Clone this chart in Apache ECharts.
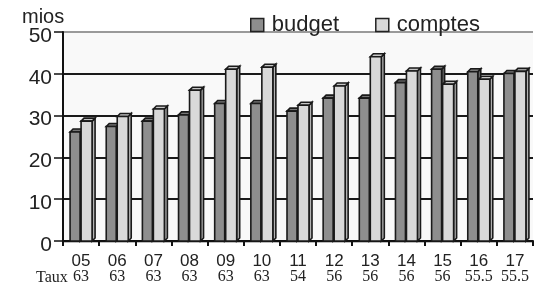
<!DOCTYPE html>
<html>
<head>
<meta charset="utf-8">
<script src="https://cdn.jsdelivr.net/npm/echarts@6/dist/echarts.min.js"></script>
<style>
html,body{margin:0;padding:0;background:#fff;}
#c{width:535px;height:285px;}
</style>
</head>
<body>
<div id="c"></div>
<script>
var years = ['05','06','07','08','09','10','11','12','13','14','15','16','17'];
var taux = ['63','63','63','63','63','63','54','56','56','56','56','55.5','55.5'];
var budget = [26.8, 28.1, 29.4, 30.9, 33.6, 33.6, 31.8, 34.9, 34.9, 38.6, 41.8, 41.2, 40.8];
var comptes = [29.4, 30.5, 32.3, 36.8, 41.8, 42.3, 33.2, 37.8, 44.8, 41.4, 38.2, 39.4, 41.3];
var yTicks = [0, 10, 20, 30, 40, 50];

var chart = echarts.init(document.getElementById('c'), null, {renderer: 'canvas'});

function makeRender(offset, w, front, top, side) {
  return function (params, api) {
    var idx = api.value(0);
    var v = api.value(1);
    var c = api.coord([idx, v]);
    var base = api.coord([idx, 0]);
    var d = 3;
    var x0 = c[0] + offset;
    var yTop = c[1] + d;
    var yBot = base[1];
    var st = {stroke: '#1a1a1a', lineWidth: 1.6};
    return {
      type: 'group',
      children: [
        {type: 'polygon', shape: {points: [[x0 + w, yTop], [x0 + w + d, yTop - d], [x0 + w + d, yBot - d], [x0 + w, yBot]]},
         style: Object.assign({fill: side}, st)},
        {type: 'polygon', shape: {points: [[x0, yTop], [x0 + d, yTop - d], [x0 + w + d, yTop - d], [x0 + w, yTop]]},
         style: Object.assign({fill: top}, st)},
        {type: 'rect', shape: {x: x0, y: yTop, width: w, height: yBot - yTop},
         style: Object.assign({fill: front}, st)}
      ]
    };
  };
}

var option = {
  animation: false,
  backgroundColor: '#ffffff',
  grid: {left: 63, right: 2, top: 32, bottom: 42, show: true, backgroundColor: '#f9f9f9', borderWidth: 0},
  legend: {
    top: 9, left: 245, itemWidth: 13, itemHeight: 13, itemGap: 36,
    icon: 'rect',
    textStyle: {fontFamily: 'Liberation Sans, Arial', fontSize: 22, color: '#222', padding: [0, 0, 0, 3]},
    data: [
      {name: 'budget', itemStyle: {color: '#8e8e8e', borderColor: '#222', borderWidth: 1.5}},
      {name: 'comptes', itemStyle: {color: '#d9d9d9', borderColor: '#222', borderWidth: 1.5}}
    ]
  },
  graphic: [
    {type: 'text', left: 22, top: 7, style: {text: 'mios', font: '20px "Liberation Sans", Arial', fill: '#222'}},
    {type: 'text', left: 36, top: 270, style: {text: 'Taux', font: '16px "Liberation Serif", "Times New Roman"', fill: '#222'}},
    {type: 'rect', shape: {x: 64, y: 240, width: 469, height: 3}, style: {fill: '#bdbdbd'}, z: 0}
  ],
  xAxis: {
    type: 'category',
    data: years,
    boundaryGap: true,
    axisLine: {show: true, lineStyle: {color: '#111', width: 2}},
    axisTick: {show: true, length: 5, lineStyle: {color: '#111', width: 2}},
    axisLabel: {
      margin: 13,
      interval: 0,
      formatter: function (val, i) { return '{y|' + val + '}\n{t|' + taux[i] + '}'; },
      rich: {
        y: {fontFamily: 'Liberation Sans, Arial', fontSize: 17, color: '#222', lineHeight: 15},
        t: {fontFamily: 'Liberation Serif, Times New Roman', fontSize: 16, color: '#222', lineHeight: 16}
      }
    },
    splitLine: {show: false}
  },
  yAxis: {
    type: 'value', min: 0, max: 50, interval: 10,
    axisLine: {show: true, lineStyle: {color: '#111', width: 2}},
    axisTick: {show: true, length: 9, lineStyle: {color: '#111', width: 1.5}},
    axisLabel: {
      margin: 11, fontFamily: 'Liberation Sans, Arial', fontSize: 21, color: '#222',
      verticalAlign: 'top', lineHeight: 8,
      formatter: function (v) { return yTicks.indexOf(v) >= 0 ? String(v) : ''; }
    },
    splitLine: {show: true, lineStyle: {color: ['#bdbdbd', '#1a1a1a', '#1a1a1a', '#1a1a1a', '#1a1a1a', '#9a9a9a'], width: 2}}
  },
  series: [
    {
      name: 'budget', type: 'custom',
      itemStyle: {color: '#8e8e8e'},
      renderItem: makeRender(-11, 10, '#8e8e8e', '#767676', '#666666'),
      encode: {x: 0, y: 1},
      data: budget.map(function (v, i) { return [i, v]; }),
      z: 2
    },
    {
      name: 'comptes', type: 'custom',
      itemStyle: {color: '#d9d9d9'},
      renderItem: makeRender(0, 11, '#d9d9d9', '#c6c6c6', '#b3b3b3'),
      encode: {x: 0, y: 1},
      data: comptes.map(function (v, i) { return [i, v]; }),
      z: 3
    }
  ]
};
chart.setOption(option);
</script>
</body>
</html>
